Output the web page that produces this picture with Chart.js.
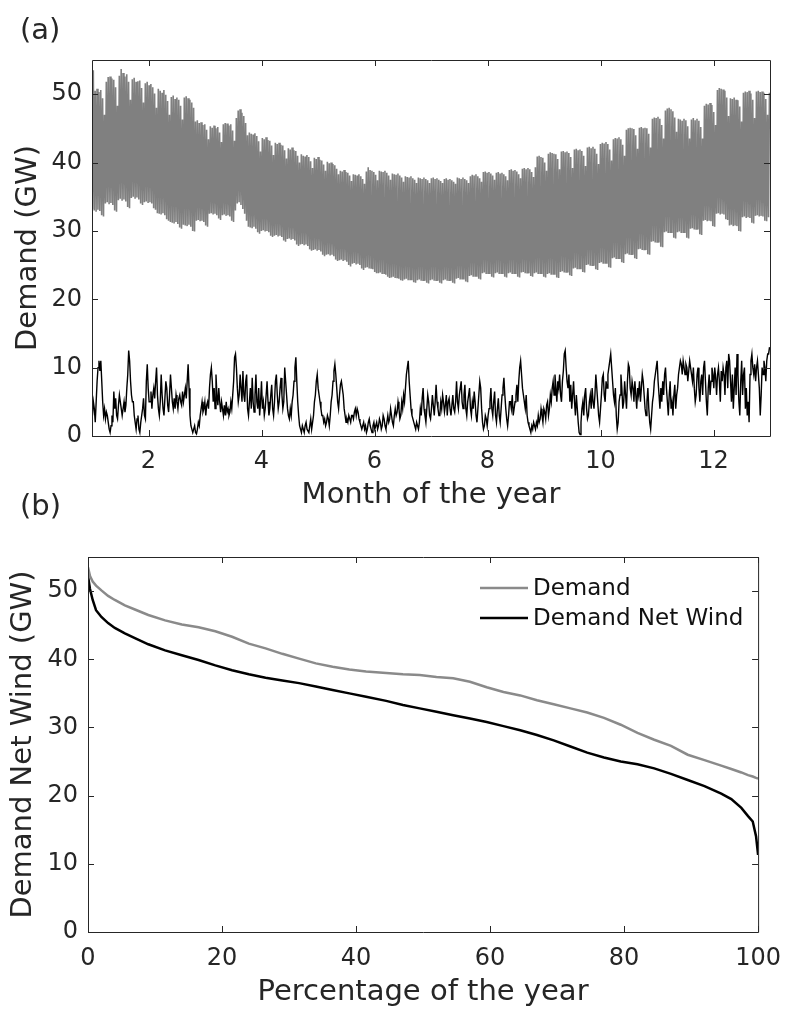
<!DOCTYPE html>
<html>
<head>
<meta charset="utf-8">
<script src="https://cdn.jsdelivr.net/npm/chart.js@4.4.1/dist/chart.umd.min.js"></script>
<style>
  html, body { margin: 0; padding: 0; background: #fff; }
  #page { position: relative; width: 793px; height: 1010px; overflow: hidden; }
  .panel { position: absolute; left: 0; width: 793px; }
  .tag { position: absolute; left: 20px; font: 29px 'DejaVu Sans'; color: #262626; }
</style>
</head>
<body>
<div id="page">
  <div class="panel" style="top:0;height:520px"><canvas id="monthly" width="793" height="520"></canvas></div>
  <div class="panel" style="top:520px;height:490px"><canvas id="duration" width="793" height="490"></canvas></div>
  <div class="tag" style="top:12px">(a)</div>
  <div class="tag" style="top:488px">(b)</div>
</div>
<script>
// tick positions
const monthTicks = [2, 4, 6, 8, 10, 12];
const gwTicks = [0, 10, 20, 30, 40, 50];
const pctTicks = [0, 20, 40, 60, 80, 100];

// daily demand peak / night trough (GW), one row per week
const dailyPeak = [
  53.5,50.5,50.8,50.3,50.6,49.4,47.0,
  51.8,52.5,52.6,52.3,52.1,51.0,48.3,
  52.7,53.7,53.1,52.6,52.9,51.8,49.2,
  52.2,52.4,51.8,51.9,52.0,50.9,48.8,
  51.6,51.8,51.3,51.5,51.0,50.1,48.0,
  50.8,50.5,50.2,50.6,49.9,49.0,47.0,
  49.6,49.8,49.3,49.5,49.2,48.3,46.3,
  49.5,49.7,49.4,49.2,48.8,48.0,46.0,
  46.2,45.8,45.9,45.5,45.6,44.8,43.4,
  45.3,45.1,45.4,45.0,45.2,44.4,43.0,
  45.6,45.8,45.7,45.4,45.6,44.7,43.2,
  46.5,47.6,47.8,47.3,46.8,45.8,44.0,
  44.4,44.2,44.1,44.3,43.9,43.1,41.6,
  43.6,43.4,43.7,43.3,43.2,42.5,41.1,
  42.9,42.7,42.9,42.6,42.5,41.8,40.6,
  42.1,41.9,42.2,41.8,41.7,41.0,40.0,
  41.2,41.0,40.9,41.1,40.8,40.2,39.2,
  40.7,40.5,40.8,40.4,40.3,39.7,38.8,
  40.1,39.9,40.0,39.8,39.6,39.1,38.3,
  38.8,38.7,38.9,38.6,38.5,38.1,37.3,
  38.3,38.2,38.1,38.3,38.0,37.6,36.9,
  38.7,39.3,38.9,38.8,38.6,38.2,37.4,
  38.8,38.7,38.6,38.8,38.5,38.1,37.5,
  38.4,38.3,38.2,38.4,38.1,37.8,37.2,
  38.0,37.9,37.8,38.0,37.7,37.5,37.0,
  37.8,37.7,37.6,37.8,37.6,37.4,37.0,
  37.7,37.8,37.6,37.7,37.5,37.3,37.0,
  37.6,37.7,37.5,37.6,37.4,37.2,36.9,
  37.8,37.7,37.6,37.8,37.6,37.4,37.0,
  38.0,38.2,38.1,38.3,38.0,37.7,37.2,
  38.6,38.7,38.5,38.6,38.4,38.1,37.5,
  38.5,38.6,38.4,38.5,38.3,38.0,37.4,
  38.9,39.0,38.8,38.9,38.7,38.3,37.7,
  39.1,39.2,39.0,39.2,39.0,38.6,37.9,
  39.3,40.9,41.0,40.8,40.7,40.0,38.8,
  41.3,41.5,41.4,41.3,41.2,40.5,39.0,
  41.6,41.7,41.5,41.6,41.4,40.8,39.2,
  41.9,42.0,41.8,41.9,41.7,41.0,39.5,
  42.2,42.3,42.1,42.3,42.0,41.3,39.8,
  42.7,42.9,42.8,43.0,42.7,41.9,40.3,
  43.4,43.6,43.5,43.7,43.4,42.6,41.0,
  44.8,45.0,45.1,45.0,44.9,44.0,42.0,
  45.1,45.2,45.0,45.1,45.0,44.2,42.2,
  46.4,46.6,46.5,46.7,46.4,45.5,43.5,
  47.6,47.9,48.0,47.8,47.5,46.6,44.5,
  46.4,46.3,46.1,46.4,46.2,45.3,43.5,
  46.3,46.5,46.2,46.4,46.1,45.2,43.5,
  48.3,48.6,48.5,48.7,48.4,47.4,45.5,
  50.6,50.9,50.8,50.7,50.5,49.5,46.8,
  49.4,49.3,49.5,49.2,49.1,48.2,46.0,
  50.2,50.4,50.3,50.5,50.1,49.2,46.5,
  50.4,50.5,50.3,50.4,50.2,49.3,47.0,
  50.2
];
const dailyTrough = [
  33.2,33.0,32.8,33.1,32.9,32.3,32.1,
  34.0,34.2,33.9,34.1,33.8,33.0,32.8,
  34.5,34.7,34.4,34.6,34.3,33.5,33.3,
  34.8,35.0,34.7,34.9,34.6,34.0,33.8,
  34.2,34.3,34.1,34.2,34.0,33.3,33.1,
  32.6,32.5,32.4,32.6,32.3,31.7,31.5,
  31.3,31.2,31.1,31.3,31.0,30.5,30.3,
  30.9,30.8,30.7,30.9,30.6,30.0,29.9,
  31.5,31.6,31.4,31.5,31.3,30.8,30.6,
  32.5,32.6,32.4,32.5,32.3,31.8,31.6,
  32.3,32.4,32.2,32.3,32.1,31.5,31.3,
  33.0,34.0,34.2,33.8,33.2,32.5,31.5,
  30.6,30.5,30.4,30.6,30.3,29.8,29.6,
  30.0,30.1,29.9,30.0,29.8,29.3,29.1,
  29.3,29.4,29.2,29.3,29.1,28.6,28.4,
  28.8,28.9,28.7,28.8,28.6,28.0,27.8,
  28.0,28.1,27.9,28.0,27.8,27.3,27.1,
  27.2,27.3,27.1,27.2,27.0,26.5,26.3,
  26.5,26.6,26.4,26.5,26.3,25.8,25.6,
  25.7,25.8,25.6,25.7,25.5,25.0,24.8,
  25.2,25.3,25.1,25.2,25.0,24.5,24.3,
  24.6,24.7,24.5,24.6,24.4,24.0,23.8,
  23.8,23.9,23.7,23.8,23.6,23.3,23.1,
  23.2,23.3,23.1,23.2,23.0,22.8,22.7,
  22.9,23.0,22.8,22.9,22.8,22.5,22.4,
  22.8,22.9,22.7,22.8,22.7,22.4,22.3,
  22.8,22.9,22.7,22.8,22.7,22.4,22.3,
  22.8,22.9,22.7,22.8,22.7,22.4,22.3,
  23.0,23.1,22.9,23.0,22.9,22.6,22.5,
  23.4,23.5,23.3,23.4,23.3,23.0,22.9,
  23.8,23.9,23.7,23.8,23.7,23.3,23.2,
  23.8,23.9,23.7,23.8,23.7,23.3,23.2,
  23.8,23.9,23.7,23.8,23.7,23.3,23.2,
  23.9,24.0,23.8,23.9,23.8,23.4,23.3,
  23.8,23.9,23.7,23.8,23.7,23.3,23.2,
  23.7,23.8,23.6,23.7,23.6,23.2,23.1,
  24.0,24.1,23.9,24.0,23.9,23.5,23.4,
  24.5,24.6,24.4,24.5,24.4,24.0,23.9,
  25.0,25.1,24.9,25.0,24.9,24.4,24.3,
  25.3,25.4,25.2,25.3,25.2,24.7,24.6,
  26.0,26.1,25.9,26.0,25.9,25.4,25.3,
  26.6,26.7,26.5,26.6,26.5,26.0,25.9,
  27.3,27.4,27.2,27.3,27.2,26.6,26.5,
  28.4,28.5,28.3,28.4,28.3,27.7,27.6,
  29.8,29.9,29.7,29.8,29.7,29.0,28.9,
  29.8,29.9,29.7,29.8,29.7,29.0,28.9,
  30.3,30.4,30.2,30.3,30.2,29.5,29.4,
  31.5,31.6,31.4,31.5,31.4,30.7,30.6,
  32.5,32.6,32.4,32.5,32.4,31.7,31.6,
  30.8,30.9,30.7,30.8,30.7,30.0,29.9,
  32.0,32.1,31.9,32.0,31.9,31.2,31.1,
  32.2,32.3,32.1,32.2,32.1,31.5,31.4,
  32.0
];

// wind output (GW), two readings a day, ten days per row
const windHalfDay = [
  3,5, 4,2, 5,8, 10,11, 9.5,11, 8,5, 3,4, 2.5,3.5, 3,2, 1,0.5,
  1.5,3, 2,6.5, 4,5.5, 3,2.5, 4.5,6, 5,4, 3,4, 5,3.5, 4.5,7, 9,12.5,
  11,8, 6,5, 5,3, 2,1, 2.5,3, 1,0.5, 2,3, 4,5.5, 3,2.5, 8,10.5,
  7,5, 5,6.5, 4,6, 7,5.5, 8,10, 6,4, 3,5, 9,6, 4,3, 5.5,8,
  7,4.5, 3.5,6, 9,7, 5,4, 5.5,4, 6,5, 4,5.5, 6,5, 4.5,6.5, 5,6,
  7,5.5, 8,10.5, 7,3, 1.5,1, 0.5,1, 1.5,0.5, 0.3,1, 2,1.5, 3,4, 5,3.5,
  4,5, 3,4.5, 5,4, 7,9, 10,8, 5,7, 4,9, 6,4.5, 7,5, 3.5,5,
  4,3, 4.5,3, 5,3.5, 4,3, 3.5,5, 4,6, 8,11.5, 12,10, 7,5, 6,9,
  7,5, 9.5,6, 5,8, 9,4, 3,5, 7,4, 8.5,5, 3.5,6, 9,5, 4,7,
  3,5, 8,4, 5,3, 4,6, 8,5, 3,4, 6,7.5, 4,3, 5,8, 9,6,
  4,5, 7,8.5, 6,4, 5,10, 8,6, 4,3, 2.5,4, 3,5, 6,8, 10,11.5,
  8,5, 3,1.5, 1,0.5, 1.5,1, 0.5,1.5, 2,1, 1,0.5, 1.5,2.5, 1,2, 3,5,
  6,8, 9,7, 6,5, 4,3, 3,2, 2.5,1.5, 2,3, 2.5,1.5, 3,5, 6,8,
  9.5,10.5, 9,7, 5,4, 6,7.5, 8,7, 6,4, 3,2, 2.5,2, 3,2.5, 2,3,
  3,2.5, 3.5,4, 3,4, 3.5,2.5, 2,1.5, 1,1.5, 2,1, 1.5,0.5, 1,2, 2.5,1.5,
  1,0.5, 1.5,2, 1,1.5, 2,1, 1.5,2.5, 2,1, 1.5,3, 2.5,1.5, 1,2, 3,2,
  2.5,4, 3,2, 1.5,3, 4,3, 3.5,5, 4,2.5, 3,5, 4,6, 5,7, 9,10,
  11,8, 6,4, 3,2.5, 2,1.5, 1,2, 1.5,1, 2,4, 3,5.5, 7,4, 3,2,
  4,6, 5,3, 2.5,4, 6,4.5, 3,5, 7.5,5, 4,3, 3,5, 4,6, 5,3.5,
  4.5,6, 3,5, 5.5,4, 3,4.5, 6,4, 3.5,5, 8,5, 4,6, 7,8, 5,4,
  6,7.5, 4,3, 5,6, 7,4, 3,5, 4,6.5, 5,3, 2,4, 6,8, 7,4,
  2,1, 1.5,3, 2.5,1.5, 3,4, 5,7, 4,3, 5,6.5, 3,2, 4,5.5, 3,2,
  4,6, 7,8.5, 6,4, 2.5,1.5, 3,5, 5,4, 6,3, 4,5, 6,7.5, 5,8,
  10,11, 9,7, 6,5, 4,6, 3,2, 1.5,1, 0.5,1.5, 1,2, 1.5,1, 2,1.5,
  3,2, 2.5,4, 3,2, 4,3.5, 2.5,4.5, 5,3, 4,6, 5,7, 8,6, 9,7,
  5,8, 7,9, 6,5, 8,9.5, 12,12.5, 10,8, 7,9, 5,7.5, 4,6, 8,5,
  3,6, 4,2, 0.5,0.2, 2,4, 5,3, 6,7, 4,2.5, 3,5, 6,4, 7,5,
  4,6, 9,7, 5,3, 2,4, 6,8.5, 9,6, 5,8, 7,9, 10,11, 12,10,
  8,6, 5,7, 3,1, 2,5, 6,9, 7,4, 5,8, 6,4, 8,10.5, 10,7,
  6,8, 7,5, 8,6, 4,7, 6,8, 5,7, 9,8, 6,4, 3,5, 7,4,
  2,1, 3,5, 6,8, 9,10, 11,8, 6,4, 7,5, 8,6, 9,10, 7,5,
  3,6, 8,4, 5,3, 6,7.5, 4,6, 7,9, 10,11, 10.5,9, 11,10, 9,10.5,
  10,8, 9.5,11, 10,9, 8,10, 7,5, 6,9, 10,7, 5,8, 9,6, 10,11,
  8,5, 3,7, 9,6, 8,10, 9,7, 10,8.5, 6,9, 10,8, 5,9.5, 8,10,
  9,6, 10,11, 7,12, 11,8, 5,9, 4,7, 10,6, 12,9, 5,3, 8,11,
  6,9, 10,4, 7,3, 5,2, 9,11, 12,10, 9,10.5, 8,10, 11,9, 7,3,
  6,10, 9,11, 10,8, 11,12, 12,13
];

// load duration curves
const pctOfYear = [0, 0.3, 0.7, 1.2, 2, 3, 4, 5.5, 7, 9, 11.5, 14, 16.5, 19, 21.5, 24, 26.5, 29, 31.5, 34,
  36.5, 39, 41.5, 44.5, 47, 49.5, 52, 54.5, 57, 59.5, 62, 64.5, 67, 69.5, 72, 74.5, 77, 79.5, 82, 84.5,
  87, 89.5, 92, 94.5, 96, 97.5, 98.5, 99.2, 99.7, 100];
const demandSorted = [53.5, 52.2, 51.4, 50.8, 50.1, 49.3, 48.7, 47.9, 47.3, 46.5, 45.7, 45.1, 44.7, 44.1, 43.3, 42.3, 41.6, 40.8, 40.1, 39.4,
  38.9, 38.5, 38.2, 38.0, 37.8, 37.7, 37.4, 37.2, 36.7, 35.9, 35.2, 34.7, 34.0, 33.4, 32.8, 32.2, 31.4, 30.4, 29.2, 28.2,
  27.3, 26.0, 25.2, 24.4, 23.9, 23.4, 23.0, 22.8, 22.6, 22.5];
const netSorted = [52.2, 50.3, 48.7, 47.2, 46.2, 45.3, 44.6, 43.8, 43.1, 42.2, 41.3, 40.6, 39.9, 39.1, 38.4, 37.8, 37.3, 36.9, 36.5, 36.0,
  35.5, 35.0, 34.5, 33.9, 33.3, 32.8, 32.3, 31.8, 31.3, 30.8, 30.2, 29.6, 28.9, 28.1, 27.2, 26.3, 25.6, 25.0, 24.6, 24.0,
  23.2, 22.3, 21.4, 20.3, 19.5, 18.2, 17.0, 16.2, 14.0, 11.3];

const INK = '#262626';
Chart.defaults.font.family = '"DejaVu Sans", sans-serif';
Chart.defaults.color = INK;

// month axis: day d runs from 1 + 12d/365 to 1 + 12(d+1)/365
const demandPoints = [];
dailyTrough.forEach((t, d) => {
  demandPoints.push({ x: 1 + (d + 0.2) * 12 / 365, y: t });
  demandPoints.push({ x: 1 + (d + 0.7) * 12 / 365, y: dailyPeak[d] });
});
const windPoints = windHalfDay.map((v, i) => ({ x: 1 + (i + 0.5) * 6 / 365, y: v }));

// matlab-like box with inward ticks on all four sides
const boxAxes = {
  id: 'boxAxes',
  afterDraw(chart) {
    const { ctx, chartArea: { left, right, top, bottom }, scales: { x, y } } = chart;
    const len = 6;
    ctx.save();
    ctx.strokeStyle = INK;
    ctx.lineWidth = 1;
    ctx.beginPath();
    ctx.rect(left + 0.5, top + 0.5, right - left, bottom - top);
    x.ticks.forEach((t) => {
      const px = Math.round(x.getPixelForValue(t.value)) + 0.5;
      ctx.moveTo(px, bottom); ctx.lineTo(px, bottom - len);
      ctx.moveTo(px, top); ctx.lineTo(px, top + len);
    });
    y.ticks.forEach((t) => {
      const py = Math.round(y.getPixelForValue(t.value)) + 0.5;
      ctx.moveTo(left, py); ctx.lineTo(left + len, py);
      ctx.moveTo(right, py); ctx.lineTo(right - len, py);
    });
    ctx.stroke();
    ctx.restore();
  },
};

// legend drawn inside the plot, top right
const cornerLegend = {
  id: 'cornerLegend',
  afterDraw(chart) {
    const { ctx, chartArea } = chart;
    ctx.save();
    ctx.font = '23px "DejaVu Sans"';
    ctx.textBaseline = 'middle';
    chart.data.datasets.forEach((ds, i) => {
      const y = chartArea.top + 31 + i * 30;
      const x0 = chartArea.left + 392;
      ctx.strokeStyle = ds.borderColor;
      ctx.lineWidth = ds.borderWidth;
      ctx.beginPath();
      ctx.moveTo(x0, y);
      ctx.lineTo(x0 + 48, y);
      ctx.stroke();
      ctx.fillStyle = '#111';
      ctx.fillText(ds.label, x0 + 53, y + 1);
    });
    ctx.restore();
  },
};

const fixTicks = (values) => (scale) => { scale.ticks = values.map((v) => ({ value: v })); };

function axis(opts) {
  return {
    type: 'linear',
    min: opts.min,
    max: opts.max,
    afterBuildTicks: fixTicks(opts.ticks),
    afterFit: opts.fit,
    grid: { display: false, drawTicks: false },
    border: { display: false },
    ticks: { padding: opts.pad, font: { size: 24 }, color: INK, maxRotation: 0, autoSkip: false },
    title: { display: true, text: opts.title, color: INK, font: { size: 29, lineHeight: 1 }, padding: opts.titlePad },
  };
}

new Chart(document.getElementById('monthly'), {
  type: 'line',
  data: {
    datasets: [
      { label: 'Wind', data: windPoints, borderColor: '#000', borderWidth: 1.4, pointRadius: 0, tension: 0 },
      { label: 'Demand', data: demandPoints, borderColor: 'rgb(128,128,128)', borderWidth: 1.6, pointRadius: 0, tension: 0 },
    ],
  },
  options: {
    responsive: false,
    animation: false,
    layout: { padding: { top: 60, right: 23, left: 0, bottom: 0 } },
    plugins: { legend: { display: false }, tooltip: { enabled: false } },
    scales: {
      x: axis({ min: 1, max: 13, ticks: monthTicks, pad: 11, title: 'Month of the year',
        titlePad: { top: 0, bottom: 10 }, fit: (s) => { s.height = 84; } }),
      y: axis({ min: 0, max: 55, ticks: gwTicks, pad: 10, title: 'Demand (GW)',
        titlePad: { top: 14, bottom: 0 }, fit: (s) => { s.width = 92; } }),
    },
  },
  plugins: [boxAxes],
});

new Chart(document.getElementById('duration'), {
  type: 'line',
  data: {
    datasets: [
      { label: 'Demand', data: pctOfYear.map((p, i) => ({ x: p, y: demandSorted[i] })),
        borderColor: '#8a8a8a', borderWidth: 2.5, pointRadius: 0, tension: 0 },
      { label: 'Demand Net Wind', data: pctOfYear.map((p, i) => ({ x: p, y: netSorted[i] })),
        borderColor: '#000', borderWidth: 2.5, pointRadius: 0, tension: 0 },
    ],
  },
  options: {
    responsive: false,
    animation: false,
    layout: { padding: { top: 37, right: 27, left: 0, bottom: 0 } },
    plugins: { legend: { display: false }, tooltip: { enabled: false } },
    scales: {
      x: axis({ min: 0, max: 100, ticks: pctTicks, pad: 12, title: 'Percentage of the year',
        titlePad: { top: 0, bottom: 3 }, fit: (s) => { s.height = 78; } }),
      y: axis({ min: 0, max: 55, ticks: gwTicks, pad: 10, title: 'Demand Net Wind (GW)',
        titlePad: { top: 9, bottom: 0 }, fit: (s) => { s.width = 88; } }),
    },
  },
  plugins: [boxAxes, cornerLegend],
});
</script>
</body>
</html>
